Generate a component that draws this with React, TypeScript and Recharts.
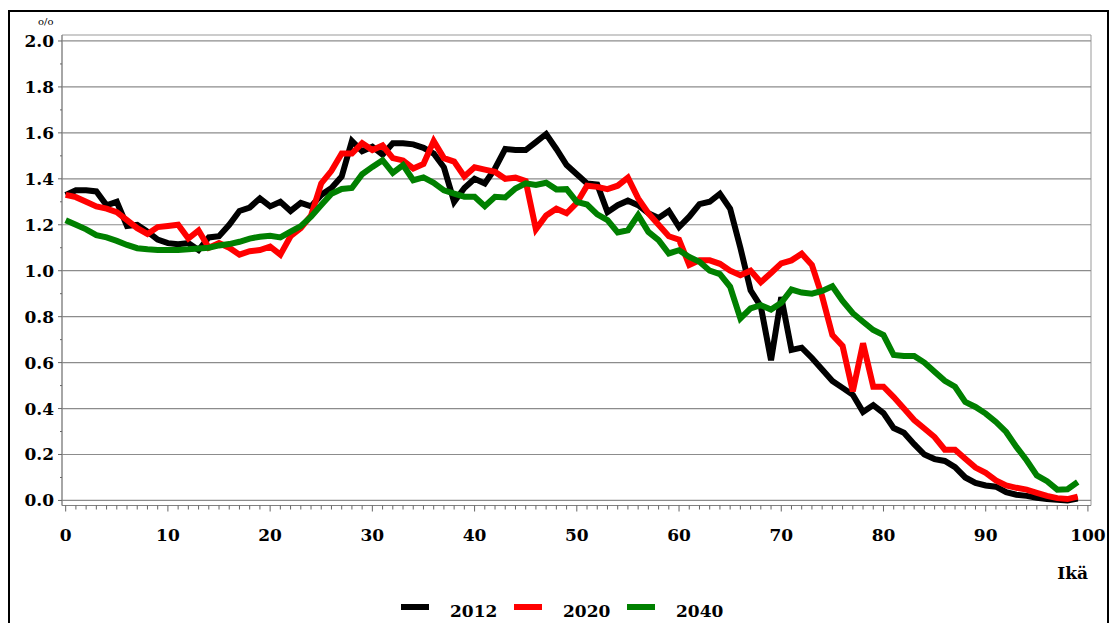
import { LineChart, Line, XAxis, YAxis, ReferenceLine, ReferenceArea, Legend } from 'recharts';

// ikä 0..99
const ages = Array.from({ length: 100 }, (_, i) => i);

const values2012 = [
  1.33, 1.35, 1.35, 1.345, 1.285, 1.3, 1.195, 1.2, 1.17, 1.135,
  1.12, 1.115, 1.12, 1.09, 1.145, 1.15, 1.2, 1.26, 1.275, 1.315,
  1.28, 1.3, 1.26, 1.295, 1.28, 1.33, 1.36, 1.41, 1.565, 1.52,
  1.54, 1.505, 1.555, 1.555, 1.55, 1.535, 1.51, 1.45, 1.3, 1.36,
  1.4, 1.38, 1.445, 1.53, 1.525, 1.525, 1.56, 1.595, 1.53, 1.46,
  1.42, 1.38, 1.375, 1.255, 1.285, 1.305, 1.285, 1.25, 1.23, 1.26,
  1.19, 1.235, 1.29, 1.3, 1.335, 1.27, 1.1, 0.915, 0.845, 0.61,
  0.885, 0.655, 0.665, 0.62, 0.57, 0.52, 0.49, 0.46, 0.385, 0.415,
  0.38, 0.315, 0.295, 0.245, 0.2, 0.18, 0.172, 0.145, 0.1, 0.076,
  0.065, 0.06, 0.036, 0.025, 0.02, 0.012, 0.006, 0.003, 0.0, 0.008,
];

const values2020 = [
  1.33, 1.32, 1.3, 1.28, 1.27, 1.255, 1.22, 1.185, 1.16, 1.19,
  1.195, 1.2, 1.14, 1.175, 1.1, 1.12, 1.1, 1.07, 1.085, 1.09,
  1.105, 1.07, 1.15, 1.185, 1.24, 1.38, 1.435, 1.51, 1.51, 1.555,
  1.525, 1.545, 1.49, 1.48, 1.445, 1.465, 1.565, 1.49, 1.475, 1.41,
  1.45, 1.44, 1.43, 1.4, 1.405, 1.39, 1.18, 1.24, 1.27, 1.25,
  1.295, 1.37, 1.365, 1.355, 1.37, 1.405, 1.315, 1.25, 1.2, 1.15,
  1.135, 1.025, 1.045, 1.045, 1.03, 1.0, 0.98, 1.0, 0.95, 0.99,
  1.032, 1.045, 1.074, 1.025, 0.888, 0.72, 0.672, 0.475, 0.684, 0.495,
  0.495, 0.45, 0.4, 0.35, 0.313, 0.276, 0.221, 0.221, 0.182, 0.143,
  0.12, 0.087, 0.065, 0.055, 0.047, 0.033, 0.02, 0.01, 0.006, 0.017,
];

const values2040 = [
  1.22, 1.2, 1.18, 1.155, 1.145, 1.13, 1.112, 1.098, 1.093, 1.09,
  1.09, 1.09, 1.093, 1.097, 1.1, 1.11, 1.116, 1.126, 1.14, 1.148,
  1.152, 1.145, 1.17, 1.194, 1.235, 1.286, 1.335, 1.356, 1.36, 1.42,
  1.452, 1.481, 1.426, 1.46, 1.394, 1.406, 1.383, 1.35, 1.336, 1.322,
  1.322, 1.281, 1.322, 1.319, 1.358, 1.38, 1.373, 1.383, 1.354, 1.355,
  1.3, 1.288, 1.245, 1.22, 1.167, 1.176, 1.242, 1.169, 1.133, 1.075,
  1.089, 1.06, 1.039, 1.0, 0.985, 0.93, 0.792, 0.836, 0.85, 0.831,
  0.86, 0.918, 0.905, 0.9, 0.912, 0.932, 0.868, 0.815, 0.778, 0.742,
  0.72, 0.633, 0.629, 0.629, 0.6, 0.56, 0.521, 0.495, 0.429, 0.407,
  0.378, 0.342, 0.298, 0.233, 0.175, 0.109, 0.084, 0.047, 0.049, 0.08,
];

const seriesNames = ['2012', '2020', '2040'];
const seriesColors = ['#000000', '#ff0000', '#008000'];

const xTicks = Array.from({ length: 101 }, (_, i) => i);
const xLabels = [0, 10, 20, 30, 40, 50, 60, 70, 80, 90, 100];
const yTicks = [0, 0.1, 0.2, 0.3, 0.4, 0.5, 0.6, 0.7, 0.8, 0.9, 1.0, 1.1, 1.2, 1.3, 1.4, 1.5, 1.6, 1.7, 1.8, 1.9, 2.0];
const yLabels = [0, 0.2, 0.4, 0.6, 0.8, 1.0, 1.2, 1.4, 1.6, 1.8, 2.0];

const X_DOMAIN: [number, number] = [-0.36, 100.3];
const Y_DOMAIN: [number, number] = [-0.022, 2.026];

const FONT = "'DejaVu Serif', serif";

const chartData = ages.map((age, i) => ({
  age,
  v2012: values2012[i],
  v2020: values2020[i],
  v2040: values2040[i],
}));

const XTick = ({ x, y, payload }: any) => {
  const major = xLabels.includes(payload.value);
  return (
    <g>
      <line x1={x} x2={x} y1={y} y2={y + (major ? 6 : 4)} stroke="#666" strokeWidth={1} />
      {major && (
        <text x={x} y={y + 35} textAnchor="middle" fontFamily={FONT} fontWeight="bold" fontSize={17} fill="#000">
          {payload.value}
        </text>
      )}
    </g>
  );
};

const YTick = ({ x, y, payload }: any) => {
  const major = yLabels.some((v) => Math.abs(v - payload.value) < 1e-6);
  return (
    <g>
      <line x1={x - (major ? 4 : 2)} x2={x} y1={y} y2={y} stroke="#666" strokeWidth={1} />
      {major && (
        <text x={x - 8} y={y + 6} textAnchor="end" fontFamily={FONT} fontWeight="bold" fontSize={17} fill="#000">
          {payload.value.toFixed(1)}
        </text>
      )}
    </g>
  );
};

const LegendContent = ({ payload }: any) => (
  <svg width={1117} height={27} style={{ display: 'block' }}>
    {(payload || []).map((entry: any, i: number) => (
      <g key={entry.value}>
        <rect x={401 + i * 113} y={8} width={28} height={6} fill={entry.color} />
        <text x={450 + i * 113} y={21} fontFamily={FONT} fontWeight="bold" fontSize={17} fill="#000">
          {entry.value}
        </text>
      </g>
    ))}
  </svg>
);

const App = () => {
  const keys = ['v2012', 'v2020', 'v2040'];
  return (
    <div style={{ position: 'absolute', left: 0, top: 0, width: 1117, height: 623, overflow: 'hidden', background: '#fff' }}>
      <div
        style={{
          position: 'absolute',
          left: 8,
          top: 10,
          width: 1101,
          height: 700,
          border: '2px solid #000',
          boxSizing: 'border-box',
        }}
      />
      <div style={{ position: 'absolute', left: 0, top: 0 }}>
        <LineChart width={1117} height={623} data={chartData} margin={{ top: 35, right: 26, left: 12, bottom: 57.5 }}>
          <XAxis
            dataKey="age"
            type="number"
            domain={X_DOMAIN}
            allowDataOverflow
            ticks={xTicks}
            interval={0}
            tick={<XTick />}
            tickLine={false}
            tickSize={0}
            tickMargin={0}
            height={60}
            axisLine={{ stroke: '#808080' }}
            label={{
              content: (p: any) => (
                <text
                  x={p.viewBox.x + p.viewBox.width - 3}
                  y={p.viewBox.y + 73}
                  textAnchor="end"
                  fontFamily={FONT}
                  fontWeight="bold"
                  fontSize={17}
                  fill="#000"
                >
                  Ikä
                </text>
              ),
            }}
          />
          <YAxis
            type="number"
            domain={Y_DOMAIN}
            allowDataOverflow
            ticks={yTicks}
            interval={0}
            tick={<YTick />}
            tickLine={false}
            tickSize={0}
            tickMargin={0}
            width={50}
            axisLine={{ stroke: '#808080' }}
            label={{
              content: () => (
                <text x={38} y={25} fontFamily={FONT} fontSize={10} fill="#000">
                  o/o
                </text>
              ),
            }}
          />
          {yLabels.map((v) => (
            <ReferenceLine key={v} y={v} stroke="#8c8c8c" strokeWidth={1.2} />
          ))}
          <ReferenceArea
            x1={X_DOMAIN[0]}
            x2={X_DOMAIN[1]}
            y1={Y_DOMAIN[0]}
            y2={Y_DOMAIN[1]}
            fill="none"
            fillOpacity={0}
            stroke="#999"
            strokeWidth={1}
            ifOverflow="visible"
          />
          <Legend
            verticalAlign="middle"
            align="center"
            layout="horizontal"
            wrapperStyle={{ left: 0, top: 596, width: 1117 }}
            content={<LegendContent />}
          />
          {keys.map((k, i) => (
            <Line
              key={k}
              dataKey={k}
              name={seriesNames[i]}
              type="linear"
              stroke={seriesColors[i]}
              strokeWidth={6}
              dot={false}
              activeDot={false}
              isAnimationActive={false}
            />
          ))}
        </LineChart>
      </div>
    </div>
  );
};

export default App;
